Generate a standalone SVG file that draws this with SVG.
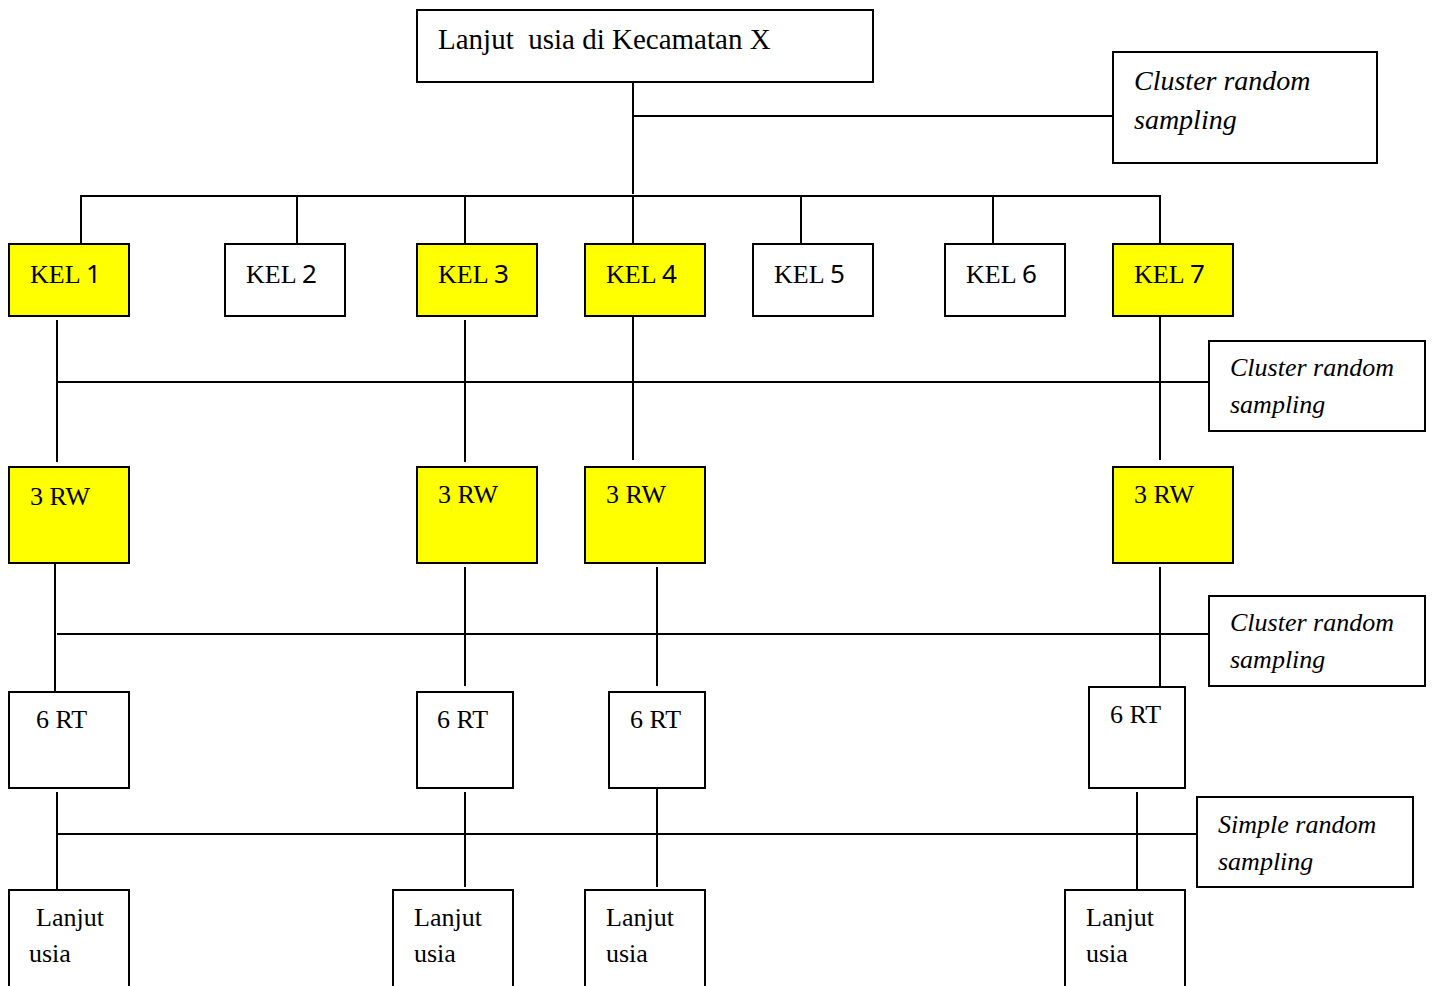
<svg xmlns="http://www.w3.org/2000/svg" width="1432" height="986" viewBox="0 0 1432 986">
<style>
.box{fill:#fff;stroke:#000;stroke-width:2}
.y{fill:#ffff00;stroke:#000;stroke-width:2}
.t{font-family:"Liberation Serif","Times New Roman",serif;font-size:26px;fill:#000}
.i{font-family:"Liberation Serif","Times New Roman",serif;font-style:italic;font-size:26px;fill:#000}
.d{font-family:"Noto Sans","DejaVu Sans",sans-serif}
.c line{stroke:#000;stroke-width:2}
</style>
<rect width="1432" height="986" fill="#fff"/>
<g class="c" id="connectors">
<line x1="633" y1="82" x2="633" y2="194"/>
<line x1="633" y1="116" x2="1113" y2="116"/>
<line x1="80" y1="196" x2="1161" y2="196"/>
<line x1="81" y1="196" x2="81" y2="244"/>
<line x1="297" y1="196" x2="297" y2="244"/>
<line x1="465" y1="196" x2="465" y2="244"/>
<line x1="633" y1="196" x2="633" y2="244"/>
<line x1="801" y1="196" x2="801" y2="244"/>
<line x1="993" y1="196" x2="993" y2="244"/>
<line x1="1160" y1="196" x2="1160" y2="244"/>
<line x1="57" y1="320" x2="57" y2="462"/>
<line x1="465" y1="320" x2="465" y2="462"/>
<line x1="633" y1="316" x2="633" y2="460"/>
<line x1="1160" y1="316" x2="1160" y2="460"/>
<line x1="57" y1="382" x2="1209" y2="382"/>
<line x1="55" y1="563" x2="55" y2="697"/>
<line x1="465" y1="567" x2="465" y2="686"/>
<line x1="657" y1="567" x2="657" y2="686"/>
<line x1="1160" y1="567" x2="1160" y2="686"/>
<line x1="57" y1="634" x2="1209" y2="634"/>
<line x1="57" y1="792" x2="57" y2="890"/>
<line x1="465" y1="792" x2="465" y2="887"/>
<line x1="657" y1="788" x2="657" y2="887"/>
<line x1="1137" y1="792" x2="1137" y2="890"/>
<line x1="57" y1="834" x2="1197" y2="834"/>
</g>
<g id="top"><rect class="box" x="417" y="10" width="456" height="72"/><text class="t" x="438" y="49" style="font-size:29px" xml:space="preserve">Lanjut  usia di Kecamatan X</text></g>
<g id="crs1"><rect class="box" x="1113" y="52" width="264" height="111"/><text class="i" x="1134" y="90" style="font-size:28px">Cluster random</text><text class="i" x="1134" y="129" style="font-size:28px">sampling</text></g>
<g id="kel1"><rect class="y" x="9" y="244" width="120" height="72"/><text class="t" x="30" y="283">KEL <tspan class="d">1</tspan></text></g>
<g id="kel2"><rect class="box" x="225" y="244" width="120" height="72"/><text class="t" x="246" y="283">KEL <tspan class="d">2</tspan></text></g>
<g id="kel3"><rect class="y" x="417" y="244" width="120" height="72"/><text class="t" x="438" y="283">KEL <tspan class="d">3</tspan></text></g>
<g id="kel4"><rect class="y" x="585" y="244" width="120" height="72"/><text class="t" x="606" y="283">KEL <tspan class="d">4</tspan></text></g>
<g id="kel5"><rect class="box" x="753" y="244" width="120" height="72"/><text class="t" x="774" y="283">KEL <tspan class="d">5</tspan></text></g>
<g id="kel6"><rect class="box" x="945" y="244" width="120" height="72"/><text class="t" x="966" y="283">KEL <tspan class="d">6</tspan></text></g>
<g id="kel7"><rect class="y" x="1113" y="244" width="120" height="72"/><text class="t" x="1134" y="283">KEL <tspan class="d">7</tspan></text></g>
<g id="crs2"><rect class="box" x="1209" y="341" width="216" height="90"/><text class="i" x="1230" y="376">Cluster random</text><text class="i" x="1230" y="413">sampling</text></g>
<g id="rw1"><rect class="y" x="9" y="467" width="120" height="96"/><text class="t" x="30" y="505">3 RW</text></g>
<g id="rw3"><rect class="y" x="417" y="467" width="120" height="96"/><text class="t" x="438" y="503">3 RW</text></g>
<g id="rw4"><rect class="y" x="585" y="467" width="120" height="96"/><text class="t" x="606" y="503">3 RW</text></g>
<g id="rw7"><rect class="y" x="1113" y="467" width="120" height="96"/><text class="t" x="1134" y="503">3 RW</text></g>
<g id="crs3"><rect class="box" x="1209" y="596" width="216" height="90"/><text class="i" x="1230" y="631">Cluster random</text><text class="i" x="1230" y="668">sampling</text></g>
<g id="rt1"><rect class="box" x="9" y="692" width="120" height="96"/><text class="t" x="36" y="728">6 RT</text></g>
<g id="rt3"><rect class="box" x="417" y="692" width="96" height="96"/><text class="t" x="437" y="728">6 RT</text></g>
<g id="rt4"><rect class="box" x="609" y="692" width="96" height="96"/><text class="t" x="630" y="728">6 RT</text></g>
<g id="rt7"><rect class="box" x="1089" y="687" width="96" height="101"/><text class="t" x="1110" y="723">6 RT</text></g>
<g id="srs"><rect class="box" x="1197" y="797" width="216" height="90"/><text class="i" x="1218" y="833">Simple random</text><text class="i" x="1218" y="870">sampling</text></g>
<g id="lu1"><rect class="box" x="9" y="890" width="120" height="100"/><text class="t" x="36" y="926">Lanjut</text><text class="t" x="29" y="962">usia</text></g>
<g id="lu3"><rect class="box" x="393" y="890" width="120" height="100"/><text class="t" x="414" y="926">Lanjut</text><text class="t" x="414" y="962">usia</text></g>
<g id="lu4"><rect class="box" x="585" y="890" width="120" height="100"/><text class="t" x="606" y="926">Lanjut</text><text class="t" x="606" y="962">usia</text></g>
<g id="lu7"><rect class="box" x="1065" y="890" width="120" height="100"/><text class="t" x="1086" y="926">Lanjut</text><text class="t" x="1086" y="962">usia</text></g>
</svg>
